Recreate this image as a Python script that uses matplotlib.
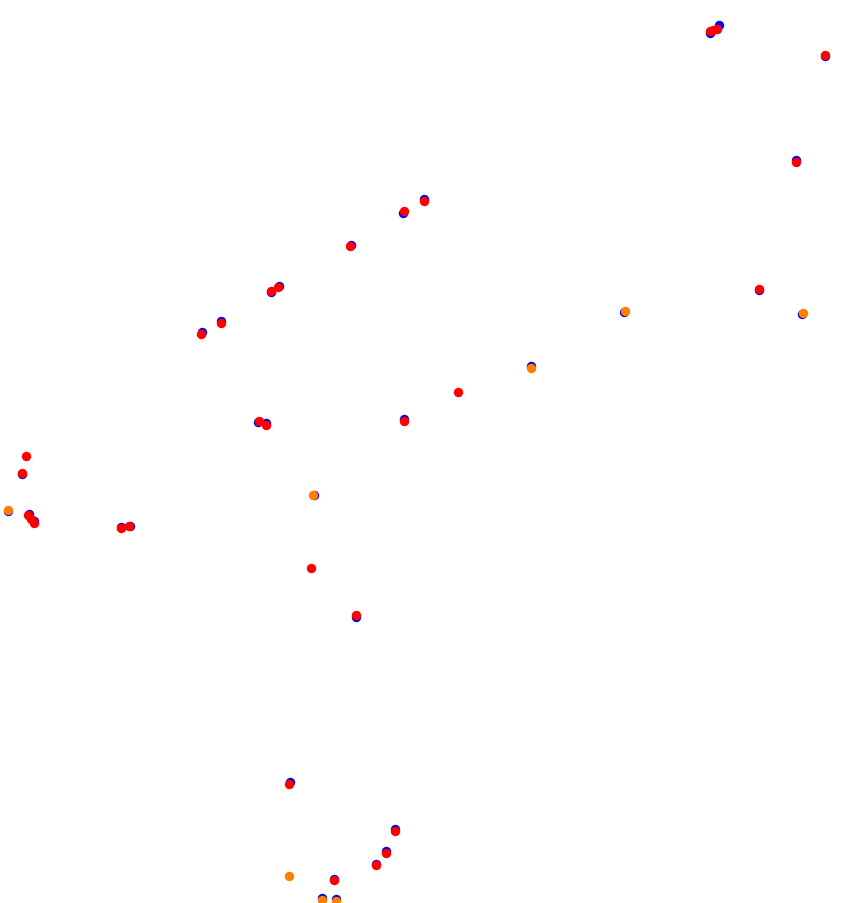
import matplotlib
matplotlib.use("Agg")
import matplotlib.pyplot as plt

# Series values (x, y)
blue_x = [710, 719, 825, 796, 759, 624, 802, 531, 404, 258, 266, 314, 356,
          202, 221, 271, 279, 351, 403, 424, 22, 8, 29, 34, 121, 130,
          290, 395, 386, 376, 334, 322, 336]
blue_y = [33, 25, 56, 160, 290, 312, 314, 366, 419, 422, 423, 495, 617,
          332, 321, 292, 286, 245, 213, 199, 474, 511, 514, 521, 527, 526,
          782, 829, 851, 864, 879, 898, 899]

orange_x = [625, 803, 531, 313, 8, 289, 322, 336]
orange_y = [311, 313, 368, 495, 510, 876, 900, 901]

red_x = [710, 713, 717, 825, 796, 759, 458, 404, 259, 266, 311, 356,
         201, 221, 271, 278, 350, 404, 424, 26, 22, 28, 31, 34, 121, 129,
         289, 395, 386, 376, 334]
red_y = [31, 30, 29, 55, 162, 289, 392, 421, 421, 425, 568, 615,
         334, 323, 291, 287, 246, 211, 201, 456, 473, 515, 519, 523, 528, 526,
         784, 831, 853, 865, 880]

fig = plt.figure(figsize=(8.56, 9.04), dpi=100)
ax = fig.add_axes([0, 0, 1, 1])
s = 46
ax.scatter(blue_x, blue_y, s=s, color="#0000ee", linewidths=0)
ax.scatter(orange_x, orange_y, s=s, color="#ff8000", linewidths=0)
ax.scatter(red_x, red_y, s=s, color="#ff0000", linewidths=0)
ax.set_xlim(0, 856)
ax.set_ylim(903, -1)
ax.axis("off")
fig.savefig("out.png", dpi=100)
